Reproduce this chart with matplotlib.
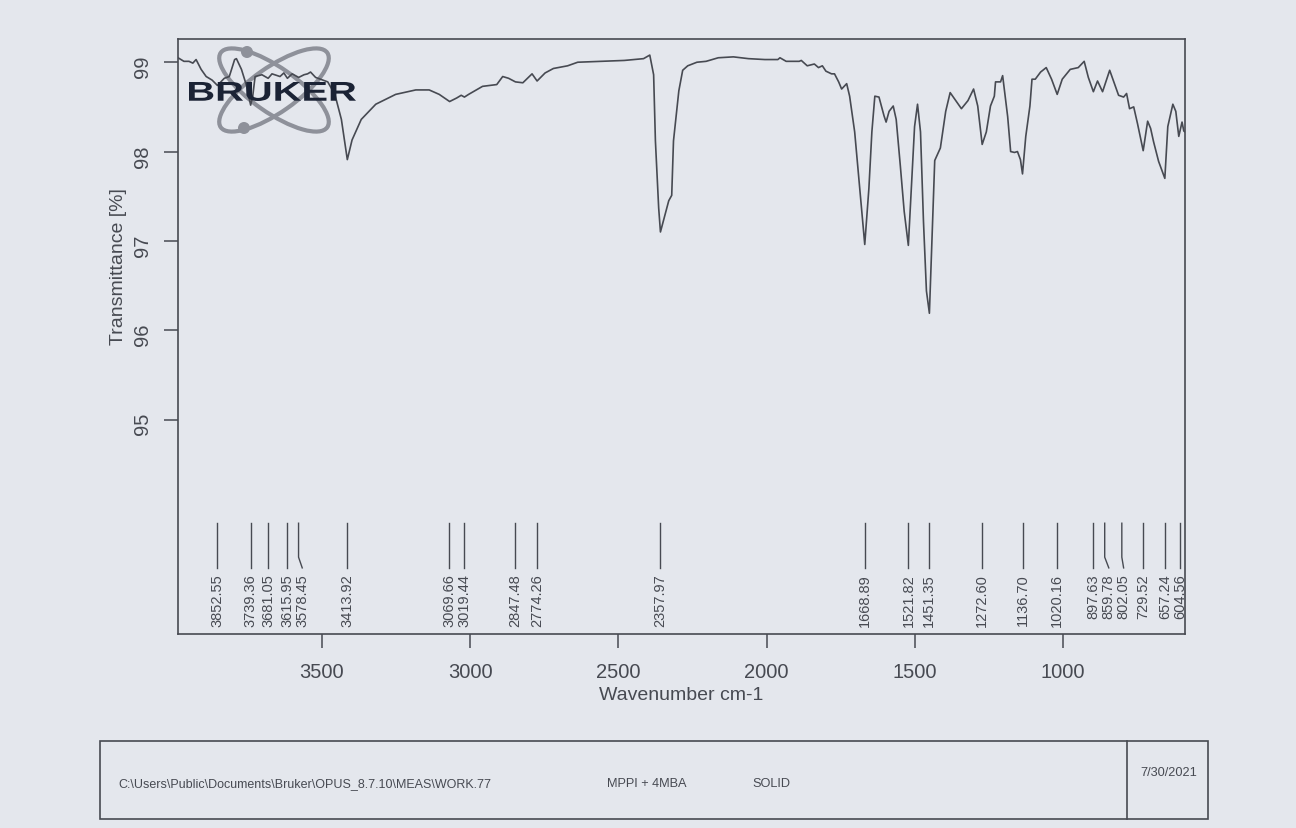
import matplotlib
matplotlib.use("Agg")
import matplotlib.pyplot as plt
from matplotlib.patches import Ellipse, Circle, Rectangle, PathPatch
from matplotlib.textpath import TextPath
from matplotlib.font_manager import FontProperties
from matplotlib.transforms import Affine2D

# spectrum: wavenumber (cm-1) and transmittance (%)
wavenumber = [
    3985, 3965, 3948, 3935, 3924, 3907, 3890, 3870, 3852, 3829, 3812, 3794, 3788,
    3771, 3755, 3740, 3733, 3725, 3702, 3681, 3668, 3641, 3628, 3616, 3600, 3578,
    3560, 3548, 3538, 3521, 3480, 3456, 3434, 3414, 3398, 3367, 3318, 3251, 3183,
    3138, 3104, 3069, 3045, 3030, 3019, 3005, 2958, 2910, 2890, 2870, 2847, 2822,
    2791, 2774, 2747, 2719, 2671, 2637, 2558, 2480, 2415, 2394, 2381, 2375, 2364,
    2358, 2342, 2330, 2320, 2314, 2296, 2283, 2266, 2235, 2204, 2163, 2112, 2061,
    2006, 1962, 1955, 1934, 1890, 1883, 1863, 1839, 1825, 1812, 1800, 1781, 1771,
    1757, 1747, 1730, 1720, 1703, 1686, 1669, 1655, 1645, 1635, 1621, 1604, 1597,
    1587, 1573, 1563, 1549, 1536, 1522, 1512, 1501, 1491, 1481, 1471, 1461, 1451,
    1444, 1433, 1414, 1396, 1381, 1362, 1343, 1321, 1302, 1288, 1273, 1259, 1245,
    1232, 1228, 1211, 1204, 1187, 1177, 1164, 1154, 1144, 1137, 1126, 1112, 1105,
    1094, 1076, 1057, 1039, 1020, 1003, 976, 949, 929, 915, 898, 884, 867, 843,
    830, 813, 796, 786, 776, 762, 749, 730, 715, 705, 695, 678, 657, 647, 630,
    620, 610, 599, 593, 589,
]
transmittance = [
    99.05, 99.01, 99.01, 98.99, 99.03, 98.92, 98.84, 98.80, 98.74, 98.82, 98.84, 99.03, 99.04,
    98.92, 98.75, 98.52, 98.62, 98.84, 98.86, 98.82, 98.87, 98.84, 98.88, 98.82, 98.87, 98.83,
    98.86, 98.87, 98.89, 98.83, 98.78, 98.64, 98.36, 97.91, 98.13, 98.36, 98.53, 98.64, 98.69,
    98.69, 98.64, 98.56, 98.60, 98.63, 98.61, 98.64, 98.73, 98.75, 98.84, 98.82, 98.78, 98.77,
    98.87, 98.79, 98.88, 98.93, 98.96, 99.00, 99.01, 99.02, 99.04, 99.08, 98.86, 98.12, 97.37,
    97.10, 97.30, 97.45, 97.51, 98.12, 98.68, 98.91, 98.96, 99.00, 99.01, 99.05, 99.06, 99.04,
    99.03, 99.03, 99.05, 99.01, 99.01, 99.02, 98.96, 98.98, 98.94, 98.96, 98.90, 98.87, 98.87,
    98.78, 98.70, 98.76, 98.62, 98.22, 97.59, 96.96, 97.59, 98.22, 98.62, 98.61, 98.40, 98.33,
    98.45, 98.51, 98.36, 97.84, 97.33, 96.95, 97.58, 98.28, 98.53, 98.22, 97.22, 96.44, 96.19,
    96.85, 97.90, 98.04, 98.45, 98.66, 98.57, 98.48, 98.57, 98.70, 98.51, 98.08, 98.22, 98.51,
    98.62, 98.78, 98.78, 98.85, 98.39, 98.00, 97.99, 98.00, 97.91, 97.75, 98.17, 98.51, 98.81,
    98.81, 98.89, 98.94, 98.81, 98.64, 98.81, 98.92, 98.94, 99.01, 98.83, 98.67, 98.79, 98.67, 98.91,
    98.79, 98.63, 98.61, 98.65, 98.48, 98.50, 98.31, 98.01, 98.34, 98.26, 98.11, 97.89, 97.70, 98.28, 98.53,
    98.45, 98.17, 98.33, 98.23, 98.22,
]

# peak picks printed under the curve
peak_labels = ["3852.55", "3739.36", "3681.05", "3615.95", "3578.45", "3413.92",
               "3069.66", "3019.44", "2847.48", "2774.26", "2357.97", "1668.89",
               "1521.82", "1451.35", "1272.60", "1136.70", "1020.16", "897.63",
               "859.78", "802.05", "729.52", "657.24", "604.56"]
# where the text sits (a few are nudged apart on the print)
label_pos = [3852.55, 3739.36, 3681.05, 3615.95, 3566, 3413.92,
             3069.66, 3019.44, 2847.48, 2774.26, 2357.97, 1668.89,
             1521.82, 1451.35, 1272.60, 1136.70, 1020.16, 897.63,
             846, 796, 729.52, 657.24, 604.56]

xticks = [3500, 3000, 2500, 2000, 1500, 1000]
yticks = [95, 96, 97, 98, 99]

file_path = r"C:\Users\Public\Documents\Bruker\OPUS_8.7.10\MEAS\WORK.77"
sample_name = "MPPI + 4MBA"
sample_form = "SOLID"
meas_date = "7/30/2021"

paper = "#e4e7ed"
ink = "#474a52"

plt.rcParams["font.family"] = ["Liberation Sans", "DejaVu Sans"]

fig = plt.figure(figsize=(12.96, 8.29), dpi=100, facecolor=paper)
ax = fig.add_axes([178 / 1296, 1 - 635 / 829, 1007 / 1296, 595 / 829])
ax.set_facecolor(paper)

ax.plot(wavenumber, transmittance, color=ink, lw=1.2, zorder=3)
ax.set_xlim(3985, 589)
ax.set_ylim(92.6, 99.26)
ax.set_xticks(xticks)
ax.set_yticks(yticks)
ax.tick_params(direction="out", length=10, width=1.1, color=ink,
               labelcolor=ink, labelsize=14.5, pad=10)
ax.tick_params(axis="y", labelrotation=90, pad=9)
for sp in ax.spines.values():
    sp.set_color(ink)
    sp.set_linewidth(1.2)
ax.set_xlabel("Wavenumber cm-1", fontsize=14, color=ink, labelpad=4)
ax.set_ylabel("Transmittance [%]", fontsize=14, color=ink)
ax.yaxis.set_label_coords(-0.051, 0.62)

# peak markers
for w, wl, lab in zip([float(p) for p in peak_labels], label_pos, peak_labels):
    ax.plot([w, w, wl], [93.84, 93.46, 93.34], color=ink, lw=1.0, zorder=3)
    ax.text(wl, 93.28, lab, rotation=90, ha="center", va="top",
            fontsize=10.5, color=ink)

# Bruker logo (orbits behind the trace, lettering on top)
inch = fig.dpi_scale_trans
logo_grey = "#8e919a"
for ang in (-35, 35):
    ax.add_patch(Ellipse((2.74, 7.38), 1.30, 0.45, angle=ang, fill=False,
                         ec=logo_grey, lw=3.0, transform=inch, zorder=1))
for cx, cy in ((2.47, 7.76), (2.44, 7.00)):
    ax.add_patch(Circle((cx, cy), 0.06, fc=logo_grey, ec="none",
                        transform=inch, zorder=1))
tp = TextPath((0, 0), "BRUKER", size=1,
              prop=FontProperties(family="Liberation Sans", weight="bold"))
bb = tp.get_extents()
trf = (Affine2D().translate(-bb.x0, -bb.y0)
       .scale(1.67 / bb.width, 0.19 / bb.height)
       .translate(1.89, 7.27) + inch)
ax.add_patch(PathPatch(tp, fc="#1b2335", ec="none", transform=trf, zorder=4))

# footer box
fig.add_artist(Rectangle((1.00, 0.09), 11.08, 0.78, fill=False, ec=ink,
                         lw=1.2, transform=inch))
fig.add_artist(plt.Line2D([11.27, 11.27], [0.09, 0.87], color=ink, lw=1.2,
                          transform=inch))
fig.text(1.18, 0.45, file_path, fontsize=9, color=ink, va="center",
         transform=inch)
fig.text(6.07, 0.45, sample_name, fontsize=9.2, color=ink, va="center",
         transform=inch)
fig.text(7.52, 0.45, sample_form, fontsize=9.2, color=ink, va="center",
         transform=inch)
fig.text(11.40, 0.56, meas_date, fontsize=9.2, color=ink, va="center",
         transform=inch)

fig.savefig("out.png", dpi=100, facecolor=paper)
